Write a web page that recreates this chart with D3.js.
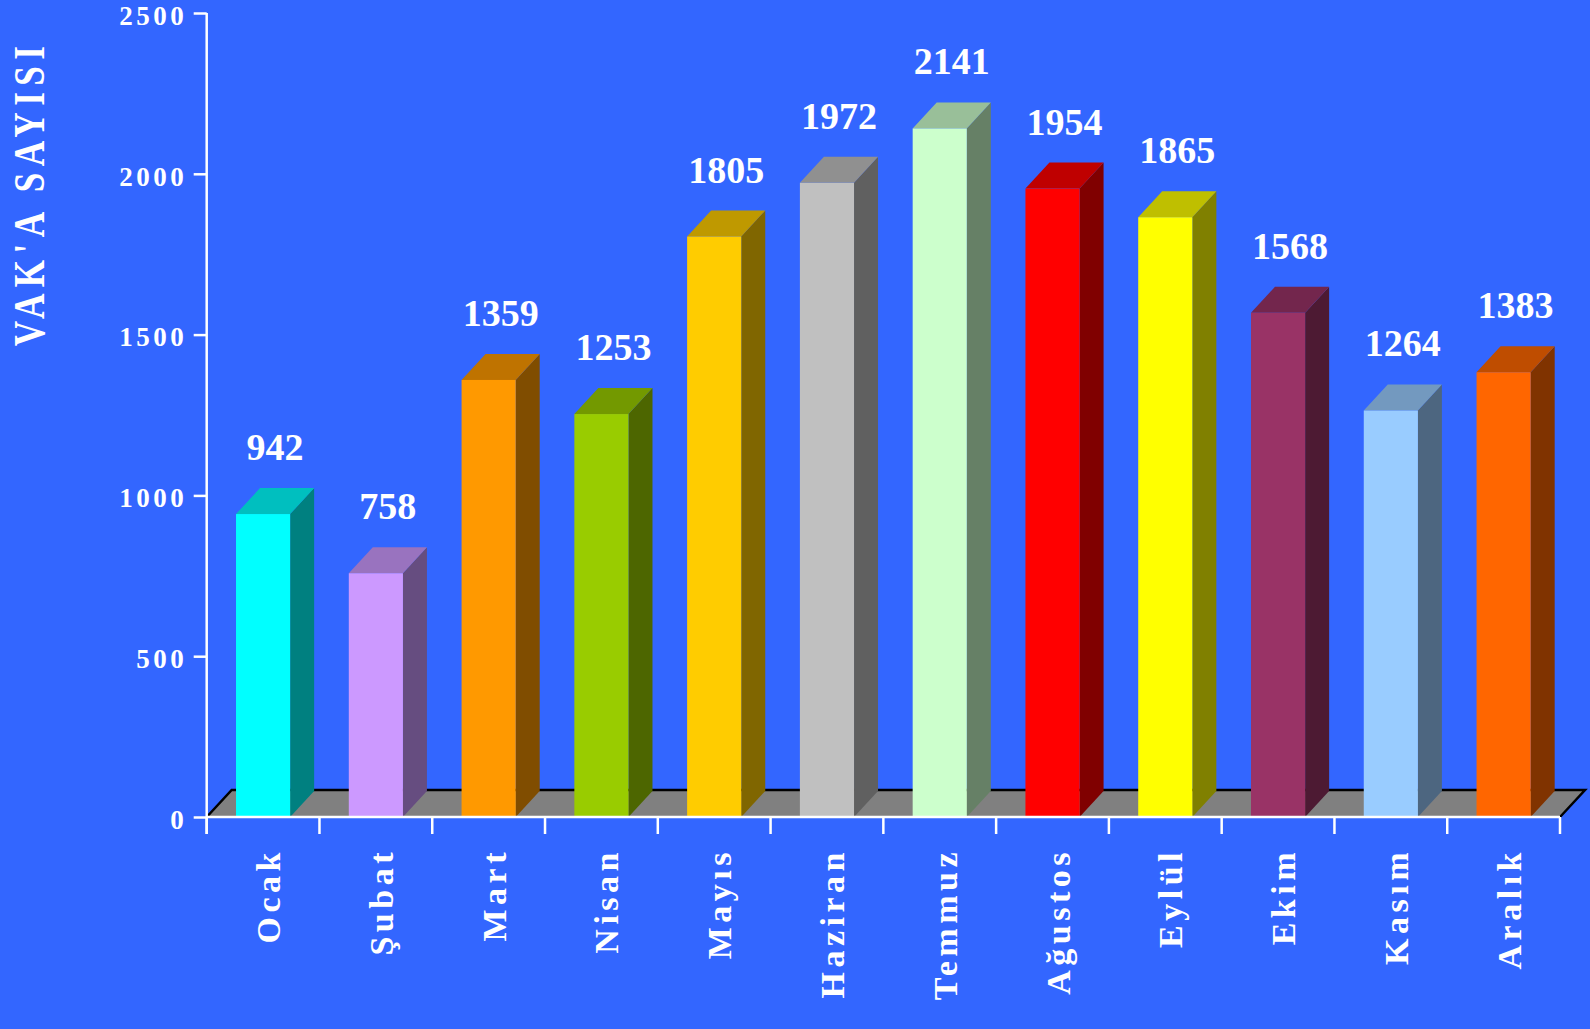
<!DOCTYPE html>
<html>
<head>
<meta charset="utf-8">
<script src="https://cdn.jsdelivr.net/npm/d3@7/dist/d3.min.js"></script>
<style>
  html, body { margin: 0; padding: 0; background: #3366FF; }
  svg { display: block; }
  text { font-family: "Liberation Serif", "DejaVu Serif", serif; font-weight: bold; fill: #ffffff; }
</style>
</head>
<body>
<div id="chart"></div>
<script>
const months = ["Ocak", "Şubat", "Mart", "Nisan", "Mayıs", "Haziran", "Temmuz", "Ağustos", "Eylül", "Ekim", "Kasım", "Aralık"];
const cases = [942, 758, 1359, 1253, 1805, 1972, 2141, 1954, 1865, 1568, 1264, 1383];
const barColors = ["#00FFFF", "#CC99FF", "#FF9900", "#99CC00", "#FFCC00", "#C0C0C0", "#CCFFCC", "#FF0000", "#FFFF00", "#993366", "#99CCFF", "#FF6600"];
const yTicks = [0, 500, 1000, 1500, 2000, 2500];
const yTitle = "VAK'A SAYISI";

const W = 1590, H = 1029;
const svg = d3.select("#chart").append("svg").attr("width", W).attr("height", H);
svg.append("rect").attr("width", W).attr("height", H).attr("fill", "#3366FF");

const x = d3.scaleBand().domain(months).range([206.7, 1560]).paddingInner(0).paddingOuter(0);
const y = d3.scaleLinear().domain([0, 2500]).range([817, 13]);

const bw = x.bandwidth() * 0.48;
const dx = 24, dy = -26;     // bar depth
const fdx = 25, fdy = -27;   // floor depth

// Floor
const x0 = x.range()[0], x1 = x.range()[1], y0 = y(0);
svg.append("path")
  .attr("d", `M${x0},${y0} L${x0 + fdx},${y0 + fdy} L${x1 + fdx},${y0 + fdy} L${x1},${y0} Z`)
  .attr("fill", "#808080");
svg.append("path")
  .attr("d", `M${x0},${y0} L${x0 + fdx},${y0 + fdy} L${x1 + fdx},${y0 + fdy} L${x1},${y0}`)
  .attr("fill", "none").attr("stroke", "#000").attr("stroke-width", 2.5);

// Bars
const shade = (c, k) => { const r = d3.rgb(c); return d3.rgb(r.r * k, r.g * k, r.b * k).formatHex(); };
const data = months.map((m, i) => ({ m, v: cases[i], c: barColors[i] }));
const bars = svg.append("g").selectAll("g").data(data).join("g");
bars.each(function(d) {
  const g = d3.select(this);
  const bx = x(d.m) + (x.bandwidth() - bw) / 2;
  const top = y(d.v), bot = y(0);
  g.append("path")
    .attr("d", `M${bx + bw},${bot} L${bx + bw + dx},${bot + dy} L${bx + bw + dx},${top + dy} L${bx + bw},${top} Z`)
    .attr("fill", shade(d.c, 0.5));
  g.append("path")
    .attr("d", `M${bx},${top} L${bx + dx},${top + dy} L${bx + bw + dx},${top + dy} L${bx + bw},${top} Z`)
    .attr("fill", shade(d.c, 0.75));
  g.append("rect").attr("x", bx).attr("y", top).attr("width", bw).attr("height", bot - top).attr("fill", d.c);
  g.append("text")
    .attr("x", bx + bw / 2 + dx / 2)
    .attr("y", top - 54)
    .attr("text-anchor", "middle")
    .attr("font-size", 38)
    .text(d.v);
});

// Y axis
const yAxis = svg.append("g").attr("transform", `translate(${x0},0)`)
  .call(d3.axisLeft(y).tickValues(yTicks).tickSize(13).tickPadding(10).tickFormat(d3.format("d")));
yAxis.select(".domain").remove();
yAxis.selectAll(".tick line").attr("stroke", "#fff").attr("stroke-width", 2.5);
yAxis.selectAll(".tick text")
  .attr("fill", "#fff").attr("font-size", 27).attr("font-family", "Liberation Serif, serif")
  .attr("font-weight", "bold").attr("letter-spacing", "3.5px").attr("dx", "3.5").attr("dy", "0.42em");
svg.append("line").attr("x1", x0).attr("x2", x0).attr("y1", y(2500)).attr("y2", 834)
  .attr("stroke", "#fff").attr("stroke-width", 2.5);

// X axis
svg.append("line").attr("x1", x0).attr("x2", x1).attr("y1", y0).attr("y2", y0)
  .attr("stroke", "#fff").attr("stroke-width", 2.5);
const edges = months.map(m => x(m)).concat([x1]);
svg.append("g").selectAll("line").data(edges).join("line")
  .attr("x1", d => d).attr("x2", d => d).attr("y1", y0).attr("y2", 834)
  .attr("stroke", "#fff").attr("stroke-width", 2.5);

svg.append("g").selectAll("text").data(months).join("text")
  .attr("transform", m => `translate(${x(m) + x.bandwidth() / 2 + 17},848) rotate(-90)`)
  .attr("text-anchor", "end")
  .attr("font-size", 34)
  .attr("letter-spacing", "4.5px")
  .text(m => m);

// Y title (condensed glyphs, letter-spaced)
svg.append("text")
  .attr("transform", `translate(44,193) rotate(-90) scale(0.8,1)`)
  .attr("text-anchor", "middle")
  .attr("font-size", 44)
  .attr("letter-spacing", "8px")
  .text(yTitle);
</script>
</body>
</html>
